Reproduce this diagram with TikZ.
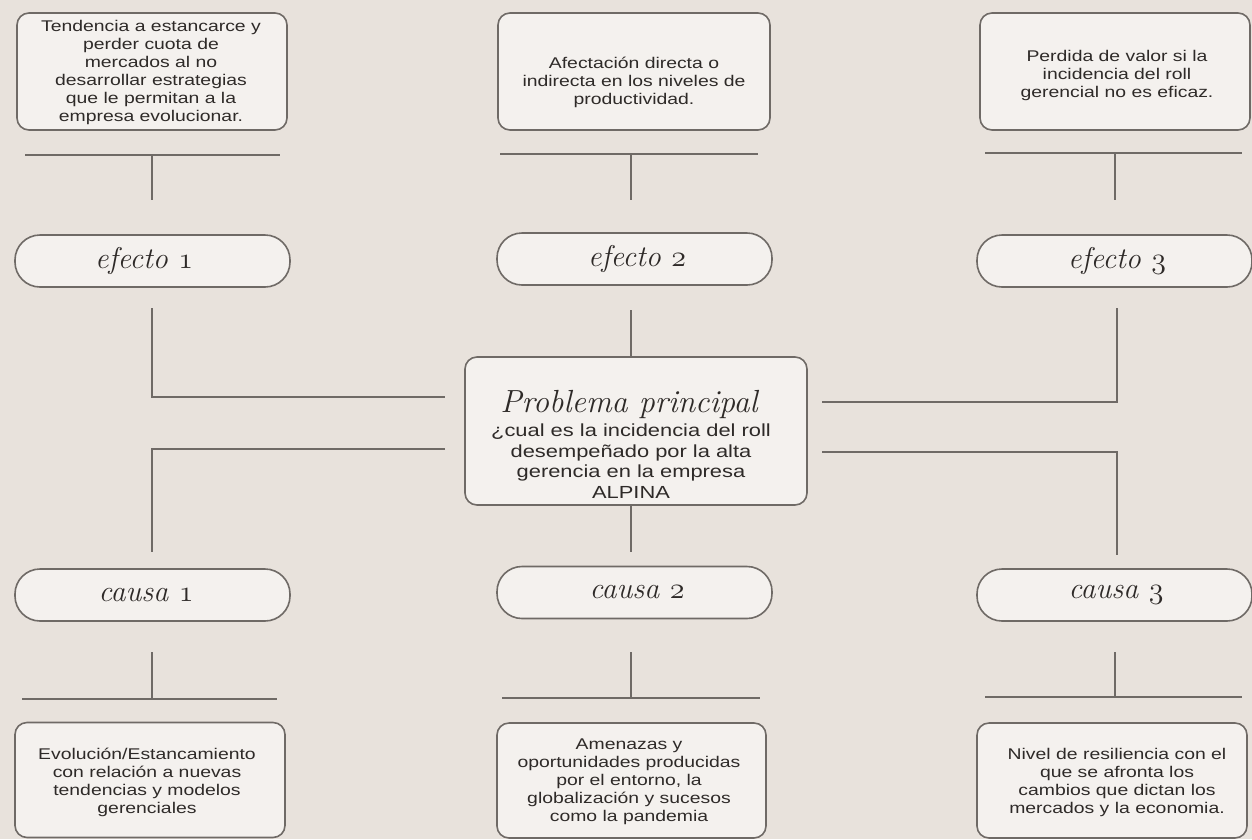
\documentclass[tikz,border=0pt]{standalone}
\usepackage{fix-cm}
\usepackage{fontspec}
\newfontfamily\bodyfamily{Liberation Sans}[FakeStretch=1.25]
\definecolor{bgc}{HTML}{E8E2DC}
\definecolor{boxc}{HTML}{F4F1EE}
\definecolor{linec}{HTML}{6F6A66}
\definecolor{textc}{HTML}{2E2A28}
\newcommand\osd[1]{{\usefont{OML}{cmm}{m}{it}#1}}
\tikzset{
  box/.style={draw=linec, line width=1.6pt, fill=boxc, rounded corners=12pt, inner sep=0pt},
  pill/.style={draw=linec, line width=1.6pt, fill=boxc, rounded corners=25pt,
    minimum width=275pt, minimum height=52pt, inner sep=0pt},
  plabel/.style={inner sep=0pt, text=textc, font=\fontsize{30}{34}\selectfont\itshape},
  txt/.style={align=center, inner sep=0pt, text=textc, font=\bodyfamily\fontsize{15.5}{18}\selectfont},
  ctxt/.style={align=center, inner sep=0pt, text=textc, font=\bodyfamily\fontsize{17.5}{20.7}\selectfont},
  conn/.style={draw=linec, line width=1.8pt}
}
\begin{document}
\begin{tikzpicture}[x=1pt,y=-1pt]
\fill[bgc] (0,0) rectangle (1252,839);
\useasboundingbox (0,0) rectangle (1252,839);

% top boxes
\node[box, minimum width=270pt, minimum height=117pt] (b1) at (152,71.5) {};
\node[box, minimum width=272pt, minimum height=117pt] (b2) at (634,71.5) {};
\node[box, minimum width=270pt, minimum height=117pt] (b3) at (1115,71.5) {};
\node[txt] (t1) at (151,72) {Tendencia a estancarce y\\perder cuota de\\mercados al no\\desarrollar estrategias\\que le permitan a la\\empresa evolucionar.};
\node[txt] (t2) at (634,82) {Afectación directa o\\indirecta en los niveles de\\productividad.};
\node[txt] (t3) at (1117,75) {Perdida de valor si la\\incidencia del roll\\gerencial no es eficaz.};

% effect pills
\node[pill] (e1) at (152.5,261) {};
\node[pill] (e2) at (634.5,259) {};
\node[pill] (e3) at (1114.5,261) {};
\node[plabel] (le1) at (144,261) {efecto \osd{1}};
\node[plabel] (le2) at (637,259) {efecto \osd{2}};
\node[plabel] (le3) at (1117,261) {efecto \osd{3}};

% center
\node[box, minimum width=342pt, minimum height=148pt] (c) at (636,431) {};
\node[inner sep=0pt, text=textc, font=\fontsize{32}{34}\selectfont\itshape] (ct) at (629,404) {Problema principal};
\node[ctxt] (cb) at (631,461) {¿cual es la incidencia del roll\\desempeñado por la alta\\gerencia en la empresa\\ALPINA};

% cause pills
\node[pill] (k1) at (152.5,595) {};
\node[pill] (k2) at (634.5,592.5) {};
\node[pill] (k3) at (1114.5,595) {};
\node[plabel] (lk1) at (146,595) {causa \osd{1}};
\node[plabel] (lk2) at (637,592.5) {causa \osd{2}};
\node[plabel] (lk3) at (1116,595) {causa \osd{3}};

% bottom boxes
\node[box, minimum width=270pt, minimum height=115pt] (d1) at (150,780) {};
\node[box, minimum width=269pt, minimum height=115pt] (d2) at (631.5,780.5) {};
\node[box, minimum width=270pt, minimum height=115pt] (d3) at (1112,780.5) {};
\node[txt] (u1) at (147,782) {Evolución/Estancamiento\\con relación a nuevas\\tendencias y modelos\\gerenciales};
\node[txt] (u2) at (629,782) {Amenazas y\\oportunidades producidas\\por el entorno, la\\globalización y sucesos\\como la pandemia};
\node[txt] (u3) at (1117,782) {Nivel de resiliencia con el\\que se afronta los\\cambios que dictan los\\mercados y la economia.};

% top T connectors
\coordinate (a1l) at (25,155); \coordinate (a1r) at (280,155);
\coordinate (a1m) at (152,155); \coordinate (a1s) at (152,200);
\draw[conn] (a1l) -- (a1r); \draw[conn] (a1m) -- (a1s);
\coordinate (a2l) at (500,154); \coordinate (a2r) at (758,154);
\coordinate (a2m) at (631,154); \coordinate (a2s) at (631,200);
\draw[conn] (a2l) -- (a2r); \draw[conn] (a2m) -- (a2s);
\coordinate (a3l) at (985,153); \coordinate (a3r) at (1242,153);
\coordinate (a3m) at (1115,153); \coordinate (a3s) at (1115,200);
\draw[conn] (a3l) -- (a3r); \draw[conn] (a3m) -- (a3s);

% effects to center
\coordinate (p1) at (152,308); \coordinate (p1e) at (445,397);
\draw[conn] (p1) |- (p1e);
\coordinate (p2) at (631,310);
\draw[conn] (p2) -- (p2 |- c.north);
\coordinate (p3) at (1117,308); \coordinate (p3e) at (822,402);
\draw[conn] (p3) |- (p3e);

% center to causes
\coordinate (q1) at (445,449); \coordinate (q1e) at (152,552);
\draw[conn] (q1) -| (q1e);
\coordinate (q2e) at (631,552);
\draw[conn] (q2e |- c.south) -- (q2e);
\coordinate (q3) at (822,452); \coordinate (q3e) at (1117,555);
\draw[conn] (q3) -| (q3e);

% bottom T connectors
\coordinate (r1s) at (152,652); \coordinate (r1m) at (152,699);
\coordinate (r1l) at (22,699); \coordinate (r1r) at (277,699);
\draw[conn] (r1s) -- (r1m); \draw[conn] (r1l) -- (r1r);
\coordinate (r2s) at (631,652); \coordinate (r2m) at (631,698);
\coordinate (r2l) at (502,698); \coordinate (r2r) at (760,698);
\draw[conn] (r2s) -- (r2m); \draw[conn] (r2l) -- (r2r);
\coordinate (r3s) at (1115,652); \coordinate (r3m) at (1115,697);
\coordinate (r3l) at (985,697); \coordinate (r3r) at (1242,697);
\draw[conn] (r3s) -- (r3m); \draw[conn] (r3l) -- (r3r);
\end{tikzpicture}
\end{document}
